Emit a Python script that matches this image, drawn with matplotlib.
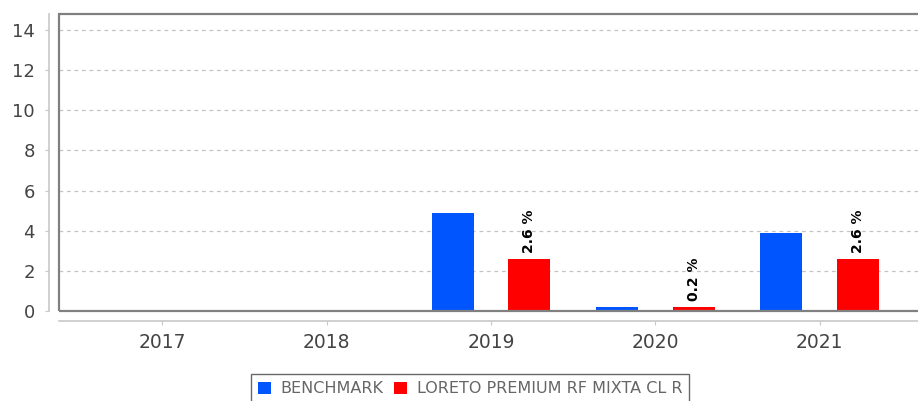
import matplotlib
matplotlib.use('Agg')
import matplotlib.pyplot as plt
from matplotlib.patches import Rectangle, Patch
import numpy as np

years = ['2017', '2018', '2019', '2020', '2021']
benchmark = [0, 0, 4.9, 0.2, 3.9]
fund = [0, 0, 2.6, 0.2, 2.6]
fund_labels = [None, None, '2.6 %', '0.2 %', '2.6 %']
series_names = ['BENCHMARK', 'LORETO PREMIUM RF MIXTA CL R']
y_ticks = [0, 2, 4, 6, 8, 10, 12, 14]

BLUE = '#0055ff'
RED = '#ff0000'

fig = plt.figure(figsize=(9.18, 4.01), dpi=100)
ax = fig.add_axes([59 / 918, 1 - 311 / 401, 864 / 918, 297 / 401])

x = np.arange(len(years))
w = 0.256
off = 0.234
ax.bar(x - off, benchmark, w, color=BLUE, zorder=3)
bars = ax.bar(x + off, fund, w, color=RED, zorder=3)

for b, lab in zip(bars, fund_labels):
    if lab:
        ax.annotate(lab, (b.get_x() + b.get_width() / 2, b.get_height()),
                    xytext=(0, 4), textcoords='offset points', rotation=90,
                    ha='center', va='bottom', fontsize=10, fontweight='bold', color='black')

ax.set_xlim(-0.63, 4.63)
ax.set_ylim(0, 14.8)
ax.set_xticks(x)
ax.set_xticklabels(years)
ax.set_yticks(y_ticks)

# dashed horizontal grid
ax.yaxis.grid(True, linestyle=(0, (3, 3)), color='#c4c4c4', linewidth=0.9, zorder=0)
ax.xaxis.grid(False)

# frame around the plot area
ax.add_patch(Rectangle((0, 0), 1, 1, transform=ax.transAxes, fill=False,
                       edgecolor='#808080', linewidth=1.6, clip_on=False, zorder=4))

# offset axis lines
for s in ['top', 'right']:
    ax.spines[s].set_visible(False)
ax.spines['left'].set_position(('outward', 7))
ax.spines['bottom'].set_position(('outward', 7))
ax.spines['left'].set_color('#c8c8c8')
ax.spines['bottom'].set_color('#c8c8c8')
ax.spines['left'].set_linewidth(1.2)
ax.spines['bottom'].set_linewidth(1.2)

ax.tick_params(axis='y', colors='#c8c8c8', labelcolor='#444444', labelsize=13,
               length=3, pad=7.5)
ax.tick_params(axis='x', colors='#c8c8c8', labelcolor='#444444', labelsize=13.5,
               length=3, pad=6)

handles = [Patch(facecolor=BLUE), Patch(facecolor=RED)]
fig.legend(handles, series_names, loc='upper center', bbox_to_anchor=(470 / 918, 1 - 374 / 401),
           borderaxespad=0, ncol=2, frameon=True, fancybox=False, edgecolor='#444444',
           fontsize=11.5, handlelength=0.8, handleheight=0.8, handletextpad=0.6,
           columnspacing=0.7, borderpad=0.45, labelcolor='#666666')

plt.savefig('out.png', dpi=100)
plt.close()
